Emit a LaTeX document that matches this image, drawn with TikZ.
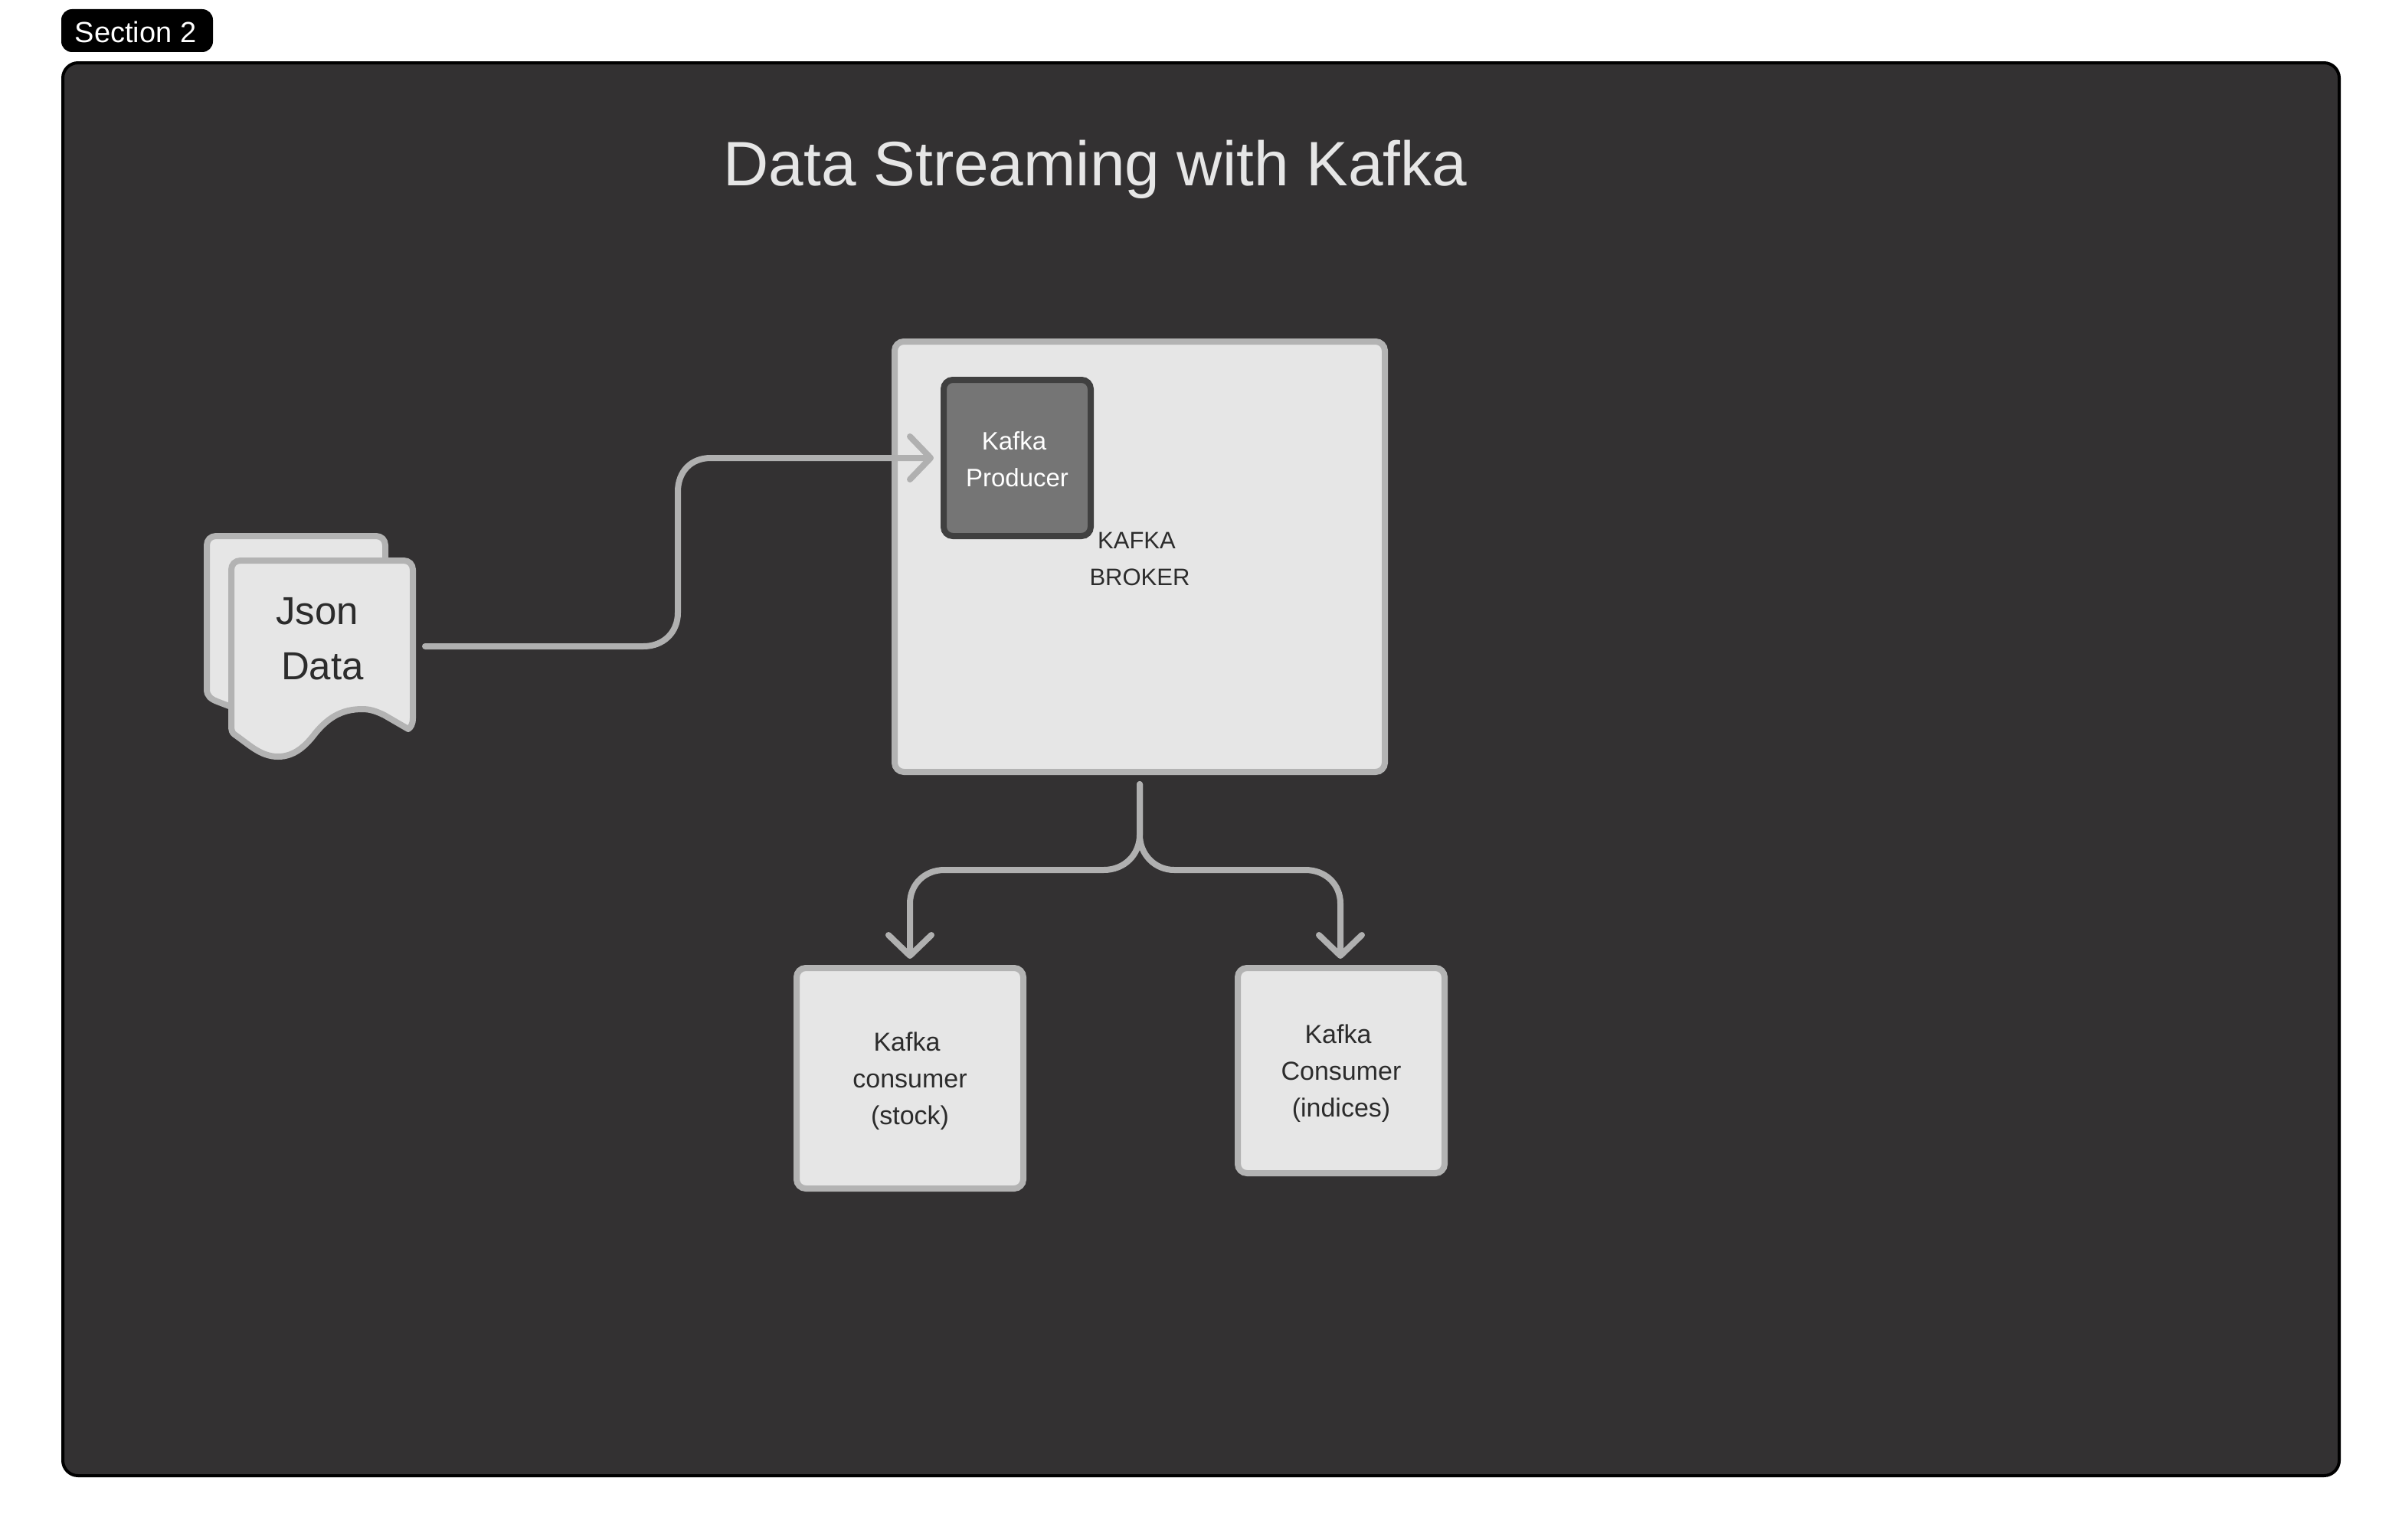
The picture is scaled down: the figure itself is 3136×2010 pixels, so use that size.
\documentclass[tikz,border=0pt]{standalone}
\usepackage{fontspec}
\setmainfont{Liberation Sans}
\usetikzlibrary{arrows.meta,calc}
\definecolor{panel}{HTML}{333132}
\definecolor{edgegray}{HTML}{B3B3B3}
\definecolor{fillgray}{HTML}{E6E6E6}
\definecolor{inkgray}{HTML}{2C2C2C}
\definecolor{prodfill}{HTML}{757575}
\definecolor{prodedge}{HTML}{404040}
\definecolor{linkgray}{HTML}{B0B0B0}
\newcommand{\fs}[1]{\fontsize{#1}{#1}\selectfont}
\tikzset{
  x=1pt,y=-1pt,
  every node/.style={inner sep=0pt,outer sep=0pt},
  panelbox/.style={draw=black,line width=4pt,fill=panel,rounded corners=20pt},
  tagbox/.style={fill=black,rounded corners=14pt,minimum width=198pt,minimum height=56pt},
  tagtext/.style={text=white,font=\fs{38}},
  titletext/.style={text=fillgray,font=\fs{82}},
  lightbox/.style={draw=edgegray,line width=8pt,fill=fillgray,rounded corners=12pt},
  labeltext/.style={text=inkgray,align=center,font=\fs{34}\setlength{\baselineskip}{48pt}},
  brokertext/.style={text=inkgray,align=center,font=\fs{31}\setlength{\baselineskip}{48pt}},
  prodbox/.style={draw=prodedge,line width=8pt,fill=prodfill,rounded corners=12pt,text=white,align=center,font=\fs{33}\setlength{\baselineskip}{48pt}},
  docshape/.style={draw=edgegray,line width=8pt,fill=fillgray,line join=round},
  doctext/.style={text=inkgray,align=center,font=\fs{51}\setlength{\baselineskip}{72pt}},
  link/.style={draw=linkgray,line width=8pt,line cap=round,
    -{Straight Barb[round,length=27pt 0 0,width=56pt 0 0]}},
}
\begin{document}
\begin{tikzpicture}
\useasboundingbox (0,0) rectangle (3136,2010);
\fill[white] (0,0) rectangle (3136,2010);
\draw[panelbox] (82,82) rectangle (3054,1927);
\node[tagbox] (tag) at (179,40) {};
\node[tagtext] (tagname) at (177,42) {Section 2};
\node[titletext] (title) at (1430,221) {Data Streaming with Kafka};

% document stack
\draw[docshape] (270,712) .. controls (270,705) and (275,700) .. (282,700)
  -- (491,700) .. controls (498,700) and (503,705) .. (503,712)
  -- (503,800) -- (320,930) -- (286,917) .. controls (275,913) and (270,909) .. (270,900) -- cycle;
\draw[docshape] (302,744) .. controls (302,737) and (307,732) .. (314,732)
  -- (527,732) .. controls (534,732) and (539,737) .. (539,744)
  -- (539,938) .. controls (539,946) and (536,950) .. (533,952)
  -- (502,934) .. controls (490,928) and (482,926) .. (473,926)
  .. controls (445,926) and (428,938) .. (412,957)
  .. controls (400,973) and (385,988) .. (363,988)
  .. controls (340,988) and (325,972) .. (306,959)
  .. controls (303,957) and (302,953) .. (302,948) -- cycle;
\node[doctext] (doc) at (421,834) {Json\kern14pt\\Data};

% boxes
\node[lightbox,minimum width=640pt,minimum height=562pt] (broker) at (1488,727) {};
\node[brokertext] (brokerlabel) at (1488,730) {KAFKA\kern8pt\\BROKER};
\node[prodbox,minimum width=192pt,minimum height=204pt] (producer) at (1328,598) {};
\node[text=white,align=center,font=\fs{33}\setlength{\baselineskip}{48pt}] (producerlabel) at (1328,600) {Kafka\kern8pt\\Producer};
\node[lightbox,minimum width=296pt,minimum height=288pt] (stock) at (1188,1408) {};
\node[labeltext] (stocklabel) at (1188,1412) {Kafka\kern8pt\\consumer\\(stock)};
\node[lightbox,minimum width=270pt,minimum height=268pt] (indices) at (1751,1398) {};
\node[labeltext] (indiceslabel) at (1751,1402) {Kafka\kern8pt\\Consumer\\(indices)};

% connector end points
\coordinate (docout) at (555,844);
\coordinate (prodin) at ($(producer.west)+(-13,0)$);
\coordinate (brokerout) at ($(broker.south)+(0,16)$);
\coordinate (stockin) at ($(stock.north)+(0,-12)$);
\coordinate (indicesin) at ($(indices.north)+(-1,-12)$);

\draw[link] (docout) -- (840,844) .. controls (866,844) and (885,826) .. (885,800)
  -- (885,642) .. controls (885,616) and (902,598) .. (928,598) -- (prodin);
\draw[link] (brokerout) -- (1488,1090) .. controls (1488,1116) and (1468,1136) .. (1441,1136)
  -- (1233,1136) .. controls (1207,1136) and (1188,1155) .. (1188,1180) -- (stockin);
\draw[link] (brokerout) -- (1488,1090) .. controls (1488,1116) and (1508,1136) .. (1533,1136)
  -- (1704,1136) .. controls (1731,1136) and (1750,1155) .. (1750,1180) -- (indicesin);
\end{tikzpicture}
\end{document}
